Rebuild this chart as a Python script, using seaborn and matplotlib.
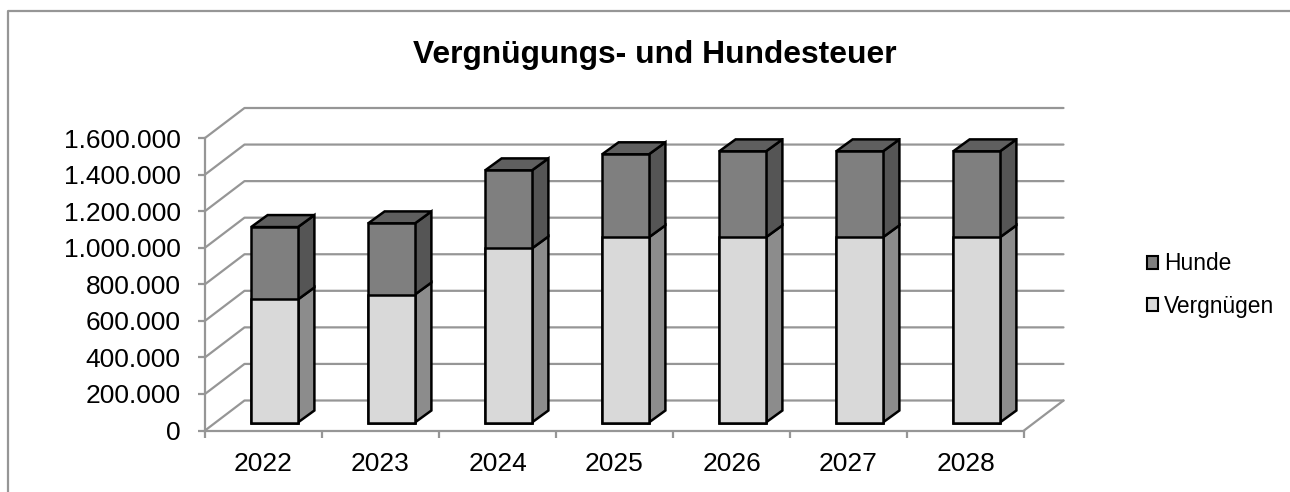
import matplotlib
matplotlib.use("Agg")
import matplotlib.pyplot as plt
import numpy as np
import seaborn as sns
from matplotlib.lines import Line2D
from matplotlib.patches import Patch, Polygon

# ============================================================
# Data
# ============================================================
years = ["2022", "2023", "2024", "2025", "2026", "2027", "2028"]
vergnuegen = [673000, 700000, 952000, 1013000, 1013000, 1013000, 1013000]
hunde = [396000, 389000, 427000, 454000, 470000, 470000, 470000]
y_ticks = [0, 200000, 400000, 600000, 800000, 1000000, 1200000, 1400000, 1600000]

GRID = "#969696"
LIGHT, LIGHT_SIDE = "#d9d9d9", "#8c8c8c"
DARK, DARK_SIDE, DARK_TOP = "#7f7f7f", "#555555", "#5f5f5f"
EDGE_LW = 1.8

sns.set_theme(style="white")
plt.rcParams['font.family'] = ['Liberation Sans', 'DejaVu Sans']

fig = plt.figure(figsize=(12.9, 4.92), dpi=100)
ax = fig.add_axes([205 / 1290, 1 - 430.5 / 492, 819 / 1290, 292.5 / 492])

# pixels -> data units for the fake 3D depth
px_x = 1 / 117
px_y = 1600000 / 292.5
wall_dx, wall_dy = 39.5 * px_x, 30 * px_y
bar_dx, bar_dy = 11 * px_x, 8 * px_y
side_dx, side_dy = 16.5 * px_x, 12 * px_y

# ============================================================
# Bars: total first, lower series on top of it
# ============================================================
total = np.array(vergnuegen) + np.array(hunde)
sns.barplot(x=years, y=total, color=DARK, saturation=1, width=0.4,
            edgecolor="black", linewidth=EDGE_LW, ax=ax, zorder=3)
sns.barplot(x=years, y=vergnuegen, color=LIGHT, saturation=1, width=0.4,
            edgecolor="black", linewidth=EDGE_LW, ax=ax, zorder=3)

ax.set_xlim(-0.5, 6.5)
ax.set_ylim(0, 1600000)

for bar in ax.patches:
    bar.set_x(bar.get_x() + bar_dx)
    bar.set_y(bar.get_y() + bar_dy)
    bar.set_joinstyle("miter")

n = len(years)
for i, bar in enumerate(ax.patches[:n]):
    x1 = bar.get_x() + bar.get_width()
    x0 = bar.get_x()
    y_top = total[i] + bar_dy
    y_mid = vergnuegen[i] + bar_dy
    y_bot = bar_dy
    faces = [
        ([(x1, y_bot), (x1 + side_dx, y_bot + side_dy),
          (x1 + side_dx, y_mid + side_dy), (x1, y_mid)], LIGHT_SIDE),
        ([(x1, y_mid), (x1 + side_dx, y_mid + side_dy),
          (x1 + side_dx, y_top + side_dy), (x1, y_top)], DARK_SIDE),
        ([(x0, y_top), (x0 + side_dx, y_top + side_dy),
          (x1 + side_dx, y_top + side_dy), (x1, y_top)], DARK_TOP),
    ]
    for pts, col in faces:
        ax.add_patch(Polygon(pts, closed=True, facecolor=col, edgecolor="black",
                             linewidth=EDGE_LW, joinstyle="miter", zorder=2.5))

# ============================================================
# Walls
# ============================================================
for v in y_ticks:
    ax.plot([-0.5, -0.5 + wall_dx, 6.5 + wall_dx], [v, v + wall_dy, v + wall_dy],
            color=GRID, lw=1.6, zorder=1, clip_on=False)
ax.plot([6.5, 6.5 + wall_dx], [0, wall_dy], color=GRID, lw=1.6, zorder=1, clip_on=False)

# ============================================================
# Axes
# ============================================================
sns.despine(ax=ax, top=True, right=True)
for side in ["left", "bottom"]:
    ax.spines[side].set_color(GRID)
    ax.spines[side].set_linewidth(1.6)
ax.patch.set_alpha(0)

ax.set_yticks(y_ticks)
ax.set_yticklabels([f"{v:,}".replace(",", ".") for v in y_ticks])
ax.set_xticks(range(n))
ax.set_xticklabels(years)
ax.set_xticks(np.arange(-0.5, n, 1), minor=True)
ax.tick_params(axis="y", left=True, length=5, width=1.6, color=GRID, pad=12.5,
               labelsize=19, labelcolor="black")
ax.tick_params(axis="x", which="major", bottom=False, length=0, pad=15.5,
               labelsize=19, labelcolor="black")
ax.tick_params(axis="x", which="minor", bottom=True, length=5, width=1.6, color=GRID)
ax.set_xlabel("")
ax.set_ylabel("")

# ============================================================
# Title, legend, chart frame
# ============================================================
fig.text(654.5 / 1290, 1 - 55 / 492, "Vergnügungs- und Hundesteuer", ha="center", va="center",
         fontsize=22.9, fontweight="bold", color="black")

handles = [Patch(facecolor=DARK, edgecolor="black", linewidth=1.5, label="Hunde"),
           Patch(facecolor=LIGHT, edgecolor="black", linewidth=1.5, label="Vergnügen")]
fig.legend(handles=handles, loc="center left", bbox_to_anchor=(1147 / 1290, 1 - 285 / 492),
           frameon=False, fontsize=16.4, labelcolor="black", handlelength=0.5, handleheight=0.5,
           handletextpad=0.25, labelspacing=0.85, borderpad=0, borderaxespad=0)

fig.add_artist(Line2D([7.5 / 1290, 7.5 / 1290, 1], [0, 1 - 10.5 / 492, 1 - 10.5 / 492],
                      color=GRID, lw=1.6))

fig.savefig("out.png", dpi=100)
plt.close(fig)
